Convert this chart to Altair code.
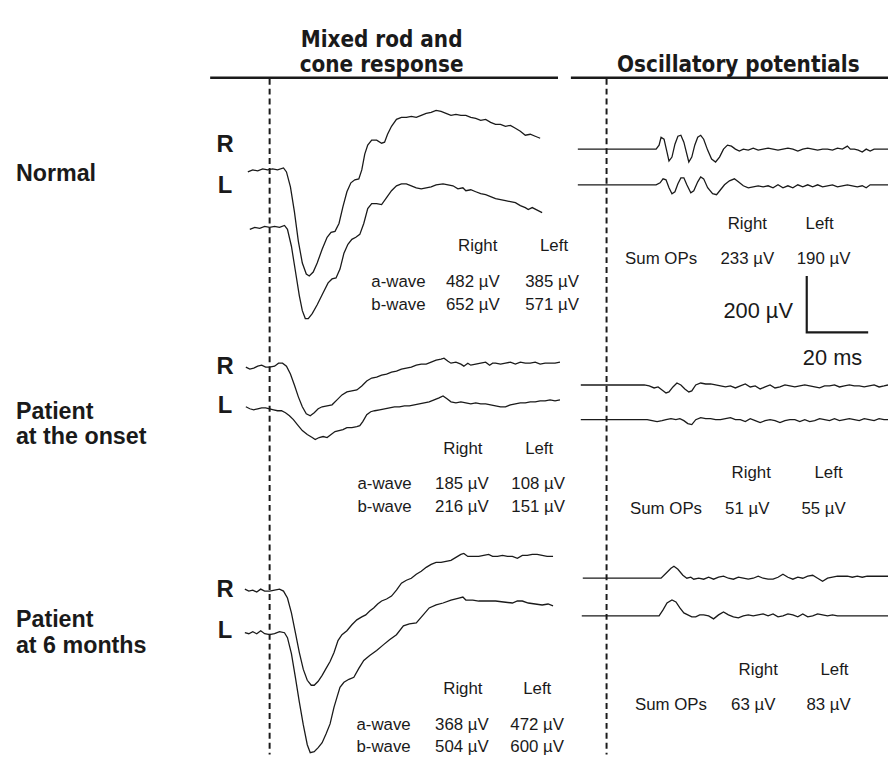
import altair as alt
import pandas as pd

# ---------------- ERG traces (figure units) ----------------
normal_mixed_R = [(250,170),(255,168),(260,169),(265,167),(270,168),(275,167),(280,168),(286,166),(289,170),(293,185),(297,210),(301,240),(305,262),(309,273),(312,275),(316,271),(320,262),(325,248),(330,236),(334,231),(338,230),(342,222),(346,205),(350,190),(354,181),(358,178),(362,177),(365,168),(368,152),(371,143),(375,138),(380,138),(385,141),(388,140),(391,132),(395,124),(400,117),(405,115),(410,115),(415,114),(420,115),(425,113),(430,111),(435,110),(440,108),(445,109),(450,111),(455,113),(460,112),(465,113),(470,113),(475,115),(480,116),(485,118),(490,117),(495,120),(500,122),(505,122),(510,124),(515,123),(520,126),(525,129),(530,133),(535,132),(540,134),(545,136)]
normal_mixed_L = [(252,228),(257,226),(262,227),(267,225),(272,226),(277,225),(282,226),(287,224),(290,228),(294,245),(298,270),(302,295),(305,310),(308,318),(311,318),(315,313),(320,304),(326,292),(331,282),(335,278),(339,277),(343,268),(347,252),(351,243),(355,238),(359,236),(363,233),(367,222),(371,207),(375,202),(380,202),(385,203),(390,196),(395,189),(400,184),(405,182),(410,182),(415,184),(420,186),(425,187),(430,186),(435,185),(440,183),(447,182),(452,183),(457,184),(462,187),(467,186),(470,189),(475,188),(480,190),(485,192),(490,193),(495,195),(500,197),(505,198),(510,199),(515,200),(520,201),(525,204),(530,206),(533,208),(537,206),(541,208),(547,211)]
normal_ops_R = [(583,147),(662,147),(665,143),(667,135),(670,137),(673,150),(675,159),(678,155),(681,142),(684,134),(687,133),(690,140),(693,152),(695,160),(698,155),(701,143),(704,135),(707,133),(710,137),(714,148),(718,157),(722,160),(726,155),(730,147),(734,143),(738,144),(742,147),(746,149),(750,147),(755,148),(760,146),(765,148),(770,147),(775,146),(780,147),(785,148),(790,147),(795,146),(800,147),(805,149),(810,147),(815,146),(820,147),(825,148),(830,147),(835,147),(840,148),(845,146),(850,147),(855,144),(858,147),(862,147),(866,148),(870,150),(874,147),(878,149),(882,147),(886,147),(890,147),(896,147)]
normal_ops_L = [(583,183),(662,183),(666,181),(669,177),(672,178),(675,186),(678,192),(681,190),(684,182),(687,176),(690,176),(693,183),(697,191),(700,189),(704,180),(707,175),(710,177),(714,186),(719,192),(723,193),(727,188),(731,183),(736,179),(741,177),(745,180),(750,184),(755,186),(760,185),(765,184),(770,185),(775,184),(780,186),(785,183),(790,186),(795,184),(800,186),(805,183),(810,185),(815,183),(820,185),(825,183),(830,185),(835,184),(840,183),(845,185),(850,184),(855,183),(860,184),(865,185),(870,184),(874,186),(878,183),(882,183),(888,183),(896,183)]
onset_mixed_R = [(248,367),(252,369),(256,368),(260,366),(264,365),(268,367),(272,367),(277,366),(281,363),(285,363),(289,366),(293,374),(297,385),(301,397),(305,407),(309,414),(313,416),(317,413),(321,409),(325,407),(330,406),(335,405),(340,400),(345,395),(350,392),(355,391),(360,390),(365,386),(370,381),(375,378),(380,377),(385,375),(390,374),(395,372),(400,371),(405,369),(410,368),(415,367),(420,365),(425,364),(430,364),(435,362),(440,360),(445,359),(448,358),(452,361),(455,363),(460,362),(465,364),(468,366),(472,363),(475,365),(480,364),(485,363),(490,362),(494,365),(497,363),(500,363),(505,364),(510,363),(515,362),(520,364),(525,362),(530,363),(535,363),(540,362),(545,364),(550,363),(555,363),(560,363),(565,362)]
onset_mixed_L = [(248,407),(252,409),(256,410),(260,409),(264,408),(268,408),(272,409),(276,410),(280,411),(284,411),(288,413),(292,416),(296,420),(300,425),(305,431),(310,435),(315,438),(318,440),(322,438),(326,437),(330,438),(334,435),(338,432),(342,431),(346,430),(350,428),(355,428),(360,427),(363,426),(366,422),(370,415),(374,412),(378,411),(383,410),(388,409),(393,408),(398,407),(403,407),(408,406),(413,406),(418,405),(423,404),(428,403),(433,402),(438,400),(443,398),(447,396),(451,399),(455,402),(460,403),(465,402),(470,403),(475,404),(480,403),(485,404),(490,404),(495,405),(500,406),(505,407),(510,407),(515,405),(520,404),(525,403),(530,403),(535,402),(540,402),(545,401),(550,401),(555,400),(560,401),(565,400)]
onset_ops_R = [(586,385),(650,385),(655,386),(660,388),(664,387),(668,390),(672,393),(675,392),(679,387),(683,383),(687,385),(691,389),(695,392),(698,391),(702,385),(707,383),(712,384),(717,384),(722,385),(727,386),(732,387),(737,386),(742,388),(747,386),(752,384),(757,387),(762,386),(767,389),(772,387),(777,385),(782,388),(787,387),(792,385),(797,386),(802,387),(807,386),(812,385),(817,386),(822,387),(827,388),(832,386),(837,386),(842,385),(847,387),(852,386),(857,385),(862,386),(867,386),(872,387),(877,386),(882,385),(887,387),(892,386),(896,385)]
onset_ops_L = [(586,420),(653,420),(658,421),(663,422),(668,421),(672,420),(677,419),(682,420),(686,419),(690,421),(694,424),(698,425),(702,420),(707,418),(712,419),(717,419),(722,420),(727,420),(732,419),(737,418),(742,420),(747,420),(752,422),(757,419),(762,421),(767,423),(772,421),(777,420),(782,421),(787,423),(792,421),(797,420),(802,420),(807,422),(812,420),(817,422),(822,421),(827,419),(832,420),(837,421),(842,419),(847,421),(852,420),(857,419),(862,420),(867,421),(872,419),(877,420),(882,421),(887,419),(892,420),(896,420)]
m6_mixed_R = [(247,591),(251,593),(255,592),(259,594),(263,591),(267,593),(272,593),(277,592),(282,591),(286,593),(290,600),(294,615),(298,635),(302,655),(306,672),(310,683),(314,688),(317,688),(321,684),(325,678),(329,671),(333,664),(337,655),(341,643),(345,637),(350,633),(355,627),(360,622),(365,619),(369,617),(373,613),(377,610),(381,606),(385,603),(390,601),(395,598),(400,592),(405,585),(410,582),(415,580),(420,576),(425,573),(430,569),(435,566),(440,564),(445,564),(450,563),(455,562),(460,559),(465,556),(468,555),(472,558),(477,558),(483,558),(488,557),(493,556),(497,558),(502,558),(507,557),(512,558),(517,558),(522,560),(527,557),(532,557),(537,556),(542,556),(547,557),(552,558),(558,558)]
m6_mixed_L = [(247,635),(251,636),(255,634),(259,636),(263,633),(267,636),(272,637),(277,636),(282,634),(287,635),(290,640),(294,656),(298,680),(302,705),(306,728),(310,748),(313,756),(317,755),(321,751),(325,746),(329,737),(333,727),(337,710),(340,700),(343,690),(347,685),(352,682),(357,680),(362,671),(367,663),(373,658),(380,653),(387,647),(393,642),(400,637),(407,628),(413,626),(420,625),(427,617),(433,610),(440,607),(447,605),(455,602),(463,600),(467,599),(470,602),(477,602),(483,603),(490,603),(500,603),(508,604),(517,605),(522,603),(527,603),(533,605),(540,606),(547,607),(553,606),(558,608)]
m6_ops_R = [(588,580),(667,580),(672,575),(677,570),(680,568),(684,571),(689,577),(693,580),(697,579),(700,581),(705,580),(710,581),(715,579),(720,581),(725,579),(730,578),(735,580),(740,581),(745,579),(750,580),(755,581),(760,580),(765,578),(770,580),(775,581),(780,581),(785,579),(790,576),(795,579),(800,581),(805,579),(810,580),(815,578),(820,577),(825,580),(830,583),(835,580),(840,579),(845,578),(850,578),(855,578),(860,579),(865,578),(870,579),(875,578),(880,578),(890,578),(896,578)]
m6_ops_L = [(587,618),(665,618),(669,612),(673,605),(678,602),(682,604),(686,610),(690,615),(694,617),(698,619),(702,619),(706,617),(710,617),(715,618),(720,621),(725,617),(730,614),(735,617),(740,619),(745,620),(750,618),(755,617),(760,618),(765,617),(770,616),(775,618),(780,616),(785,619),(790,618),(795,616),(800,617),(805,619),(810,616),(815,619),(820,618),(825,616),(830,617),(835,618),(840,617),(845,618),(850,618),(860,618),(870,618),(880,618),(896,618)]

traces = {
    "normal_mixed_R": normal_mixed_R, "normal_mixed_L": normal_mixed_L,
    "normal_ops_R": normal_ops_R, "normal_ops_L": normal_ops_L,
    "onset_mixed_R": onset_mixed_R, "onset_mixed_L": onset_mixed_L,
    "onset_ops_R": onset_ops_R, "onset_ops_L": onset_ops_L,
    "m6_mixed_R": m6_mixed_R, "m6_mixed_L": m6_mixed_L,
    "m6_ops_R": m6_ops_R, "m6_ops_L": m6_ops_L,
}

# ---------------- text content ----------------
titles = ["Mixed rod and", "cone response", "Oscillatory potentials"]
row_labels = ["Normal", "Patient", "at the onset", "Patient", "at 6 months"]
eye_labels = ["R", "L", "R", "L", "R", "L"]
mixed_values = {
    "normal": ("482 µV", "385 µV", "652 µV", "571 µV"),
    "onset": ("185 µV", "108 µV", "216 µV", "151 µV"),
    "m6": ("368 µV", "472 µV", "504 µV", "600 µV"),
}
ops_values = {"normal": ("233 µV", "190 µV"), "onset": ("51 µV", "55 µV"), "m6": ("63 µV", "83 µV")}
scale_labels = ["200 µV", "20 ms"]

# ---------------- build tables ----------------
rows = []
for name, pts in traces.items():
    for i, (x, y) in enumerate(pts):
        rows.append({"trace": name, "i": i, "x": x, "y": y})
trace_df = pd.DataFrame(rows)

INK = "#1a1a1a"
X = alt.X("x:Q", scale=alt.Scale(domain=[8, 896], nice=False, zero=False), axis=None)
Y = alt.Y("y:Q", scale=alt.Scale(domain=[8, 758], reverse=True, nice=False, zero=False), axis=None)

lines = alt.Chart(trace_df).mark_line(color=INK, strokeWidth=1.3, clip=True).encode(
    x=X, y=Y, detail="trace:N", order="i:Q")

header_df = pd.DataFrame({"x": [212, 576], "x2": [563, 896], "y": [75, 75]})
headers = alt.Chart(header_df).mark_rule(color=INK, strokeWidth=2.5).encode(x=X, x2="x2:Q", y=Y)

dash_df = pd.DataFrame({"x": [272, 612], "y": [76, 76], "y2": [758, 758]})
dashes = alt.Chart(dash_df).mark_rule(color=INK, strokeWidth=2, strokeDash=[6, 4]).encode(x=X, y=Y, y2="y2:Q")

bar_df = pd.DataFrame({"x": [814, 814, 876], "y": [275, 332, 332], "i": [0, 1, 2]})
scalebar = alt.Chart(bar_df).mark_line(color=INK, strokeWidth=2.2).encode(x=X, y=Y, order="i:Q")

# panel titles (condensed bold)
tt_df = pd.DataFrame([(titles[0], 385, 37), (titles[1], 385, 62), (titles[2], 745, 62)],
                     columns=["t", "x", "y"])
title_text = alt.Chart(tt_df).mark_text(
    font="DejaVu Sans Condensed, Liberation Sans", fontWeight="bold",
    align="center", baseline="middle", fontSize=22.5, color=INK).encode(x=X, y=Y, text="t:N")

# R / L eye labels
eye_df = pd.DataFrame({"t": eye_labels, "x": [227] * 6, "y": [143, 184, 367, 406, 592, 633]})
eye_text = alt.Chart(eye_df).mark_text(font="Liberation Sans", fontWeight="bold", align="center",
                                       baseline="middle", fontSize=24, color=INK).encode(
    x=X, y=Y, text="t:N")

bl = [(row_labels[0], 16, 172), (row_labels[1], 16, 412), (row_labels[2], 16, 438),
      (row_labels[3], 16, 622), (row_labels[4], 16, 648)]
bl_df = pd.DataFrame(bl, columns=["t", "x", "y"])
bold_left = alt.Chart(bl_df).mark_text(font="Liberation Sans", fontWeight="bold", align="left",
                                       baseline="middle", fontSize=23.5, color=INK).encode(
    x=X, y=Y, text="t:N")

rc = []
# mixed tables: (label x, col1 x, col2 x, header1 x, header2 x, header y, a-row y, b-row y)
mixed_layout = {"normal": (402, 477, 557, 482, 559, 245, 281, 304),
                "onset": (388, 466, 543, 467, 544, 450, 485, 508),
                "m6": (387, 466, 542, 467, 542, 692, 728, 750)}
for k, (lx, c1, c2, h1, h2, hy, ay, by) in mixed_layout.items():
    a1, a2, b1, b2 = mixed_values[k]
    rc += [("Right", h1, hy, 17), ("Left", h2, hy, 17),
           ("a-wave", lx, ay, 17), (a1, c1, ay, 17), (a2, c2, ay, 17),
           ("b-wave", lx, by, 17), (b1, c1, by, 17), (b2, c2, by, 17)]
ops_layout = {"normal": (667, 754, 831, 754, 827, 223, 258),
              "onset": (672, 754, 831, 758, 836, 474, 510),
              "m6": (677, 760, 836, 765, 842, 673, 708)}
for k, (lx, c1, c2, h1, h2, hy, sy) in ops_layout.items():
    v1, v2 = ops_values[k]
    rc += [("Right", h1, hy, 17), ("Left", h2, hy, 17),
           ("Sum OPs", lx, sy, 17), (v1, c1, sy, 17), (v2, c2, sy, 17)]
rc += [(scale_labels[0], 765, 310, 22), (scale_labels[1], 840, 358, 22)]
rc_df = pd.DataFrame(rc, columns=["t", "x", "y", "s"])
reg_center = alt.Chart(rc_df).mark_text(font="Liberation Sans", align="center", baseline="middle",
                                        color=INK).encode(
    x=X, y=Y, text="t:N", size=alt.Size("s:Q", scale=None))

chart = alt.layer(headers, dashes, lines, scalebar, title_text, eye_text, bold_left, reg_center).properties(
    width=888, height=750, padding=0, autosize=alt.AutoSizeParams(type="none"),
    background="white"
).configure_view(stroke=None)

chart.save("out.html", embed_options={"renderer": "svg", "actions": False})
